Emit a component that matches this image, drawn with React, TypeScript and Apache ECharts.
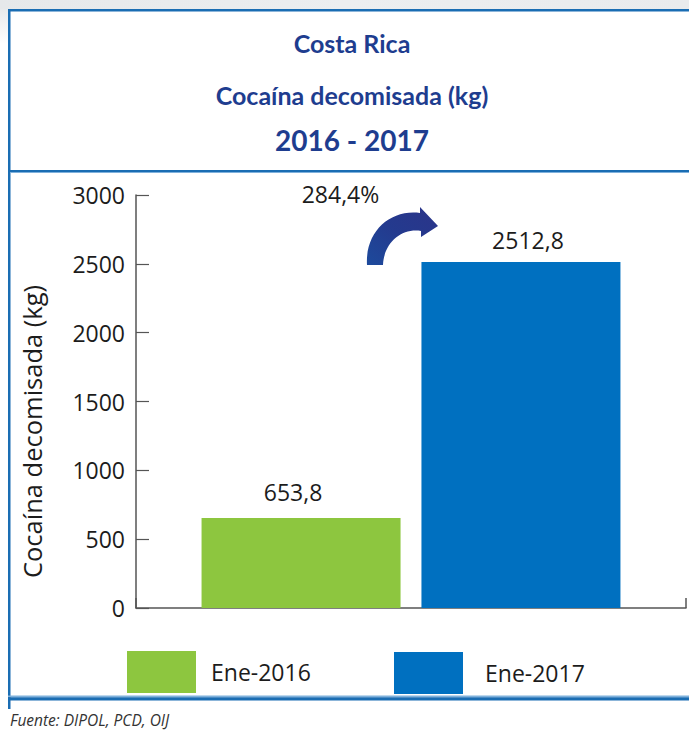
import React, { useEffect, useRef } from "react";
import * as echarts from "echarts";

// ---- data ----
const categories = [""];
const seriesNames = ["Ene-2016", "Ene-2017"];
const values2016 = [653.8];
const values2017 = [2512.8];
const yMin = 0;
const yMax = 3000;
const yInterval = 500;
const titleLines = ["Costa Rica", "Cocaína decomisada (kg)", "2016 - 2017"];
const changeLabel = "284,4%";
const yAxisName = "Cocaína decomisada (kg)";
const sourceNote = "Fuente: DIPOL, PCD, OIJ";

const fmt = (v: number) => v.toFixed(1).replace(".", ",");

const FONT = "'Open Sans', 'Noto Sans', sans-serif";
const TITLE_FONT = "Lato, 'Open Sans', sans-serif";
const TITLE_COLOR = "#1e3d8f";
const TEXT_COLOR = "#1c1c1c";
const AXIS_COLOR = "#555555";
const GREEN = "#8dc63f";
const BLUE = "#0070c0";
const FRAME = "#1a6db3";
const FRAME_LIGHT = "#7fb1dc";

const ARROW_D =
  "M 367 265 C 365 232 390 209 420 213 L 420 207 L 438 226 L 421 237 L 421 231 C 401 228 384 243 383 265 Z";

let registered = false;

export default function App() {
  const ref = useRef<HTMLDivElement>(null);

  useEffect(() => {
    if (!ref.current) return;
    if (!registered) {
      echarts.graphic.registerShape(
        "curvedArrow",
        echarts.graphic.extendPath(ARROW_D, {}) as any
      );
      registered = true;
    }
    const chart = echarts.init(ref.current, null, { renderer: "svg" });

    const option: any = {
      animation: false,
      backgroundColor: "#ffffff",
      title: [
        { top: 30, fontSize: 25 },
        { top: 82, fontSize: 25 },
        { top: 126, fontSize: 28 },
      ].map((t, i) => ({
        text: titleLines[i],
        left: 352,
        top: t.top,
        textAlign: "center",
        padding: 0,
        textStyle: {
          fontFamily: TITLE_FONT,
          fontWeight: "bold",
          fontSize: t.fontSize,
          color: TITLE_COLOR,
        },
      })),
      legend: [
        {
          data: [seriesNames[0]],
          left: 127,
          top: 651,
          padding: 0,
          itemWidth: 69,
          itemHeight: 42,
          icon: "rect",
          selectedMode: false,
          textStyle: {
            fontFamily: FONT,
            fontSize: 23,
            color: TEXT_COLOR,
            padding: [17, 0, 0, 10],
          },
        },
        {
          data: [seriesNames[1]],
          left: 394,
          top: 652,
          padding: 0,
          itemWidth: 69,
          itemHeight: 42,
          icon: "rect",
          selectedMode: false,
          textStyle: {
            fontFamily: FONT,
            fontSize: 23,
            color: TEXT_COLOR,
            padding: [19, 0, 0, 17],
          },
        },
      ],
      grid: { left: 136, right: 3, top: 195, bottom: 126 },
      xAxis: {
        type: "category",
        data: categories,
        axisLine: { show: true, lineStyle: { color: AXIS_COLOR, width: 1.5 } },
        axisTick: { show: true, inside: true, length: 10, lineStyle: { color: AXIS_COLOR, width: 1.5 } },
        axisLabel: { show: false },
        splitLine: { show: false },
      },
      yAxis: {
        type: "value",
        min: yMin,
        max: yMax,
        interval: yInterval,
        name: yAxisName,
        nameLocation: "middle",
        nameGap: 91,
        nameTextStyle: {
          fontFamily: FONT,
          fontSize: 25.5,
          color: TEXT_COLOR,
          padding: [0, 60, 0, 0],
        },
        axisLine: { show: true, lineStyle: { color: AXIS_COLOR, width: 1.5 } },
        axisTick: { show: true, inside: true, length: 13, lineStyle: { color: AXIS_COLOR, width: 1.2 } },
        axisLabel: {
          fontFamily: FONT,
          fontSize: 23,
          color: TEXT_COLOR,
          margin: 11,
          formatter: (v: number) => String(v),
        },
        splitLine: { show: false },
      },
      series: [
        {
          name: seriesNames[0],
          type: "bar",
          barWidth: 199,
          barGap: "10.5%",
          itemStyle: { color: GREEN },
          data: values2016.map((v) => ({
            value: v,
            label: { offset: [-8, 0], distance: 14 },
          })),
          label: {
            show: true,
            position: "top",
            fontFamily: FONT,
            fontSize: 23,
            color: TEXT_COLOR,
            formatter: (p: any) => fmt(p.value),
          },
        },
        {
          name: seriesNames[1],
          type: "bar",
          barWidth: 199,
          itemStyle: { color: BLUE },
          data: values2017.map((v) => ({
            value: v,
            label: { offset: [7, 0], distance: 11 },
          })),
          label: {
            show: true,
            position: "top",
            fontFamily: FONT,
            fontSize: 23,
            color: TEXT_COLOR,
            formatter: (p: any) => fmt(p.value),
          },
        },
      ],
      graphic: [
        {
          type: "rect",
          shape: { x: 0, y: 0, width: 689, height: 9 },
          style: {
            fill: new echarts.graphic.LinearGradient(0, 0, 1, 0, [
              { offset: 0, color: "#e6e8ea" },
              { offset: 0.5, color: "#eceef0" },
              { offset: 1, color: "#e9ebed" },
            ]),
          },
          silent: true,
        },
        {
          type: "rect",
          shape: { x: 0, y: 9, width: 8, height: 35 },
          style: {
            fill: new echarts.graphic.LinearGradient(0, 0, 0, 1, [
              { offset: 0, color: "#e8eaec" },
              { offset: 1, color: "#ffffff" },
            ]),
          },
          silent: true,
        },
        { type: "rect", shape: { x: 8, y: 9, width: 681, height: 2.5 }, style: { fill: FRAME }, silent: true },
        { type: "rect", shape: { x: 8, y: 9, width: 2.5, height: 700 }, style: { fill: FRAME }, silent: true },
        { type: "rect", shape: { x: 8, y: 170, width: 681, height: 2 }, style: { fill: FRAME }, silent: true },
        { type: "rect", shape: { x: 10, y: 172, width: 679, height: 1 }, style: { fill: FRAME_LIGHT }, silent: true },
        { type: "rect", shape: { x: 8, y: 695.5, width: 681, height: 1.8 }, style: { fill: FRAME_LIGHT }, silent: true },
        { type: "rect", shape: { x: 8, y: 697.3, width: 681, height: 3.2 }, style: { fill: FRAME }, silent: true },
        {
          type: "text",
          x: 340.5,
          y: 194,
          style: {
            text: changeLabel,
            fontFamily: FONT,
            fontSize: 23,
            fill: TEXT_COLOR,
            textAlign: "center",
            textVerticalAlign: "middle",
          },
          silent: true,
        },
        {
          type: "curvedArrow",
          x: 0,
          y: 0,
          style: {
            fill: new echarts.graphic.LinearGradient(0, 1, 1, 0, [
              { offset: 0, color: "#1d4a9c" },
              { offset: 0.5, color: "#243a8e" },
              { offset: 1, color: "#2b3489" },
            ]),
          },
          silent: true,
        },
        {
          type: "text",
          x: 10,
          y: 720,
          style: {
            text: sourceNote,
            fontFamily: FONT,
            fontStyle: "italic",
            fontSize: 15.5,
            fill: "#333333",
            textAlign: "left",
            textVerticalAlign: "middle",
          },
          silent: true,
        },
      ],
    };

    chart.setOption(option);
    return () => chart.dispose();
  }, []);

  return (
    <div
      ref={ref}
      style={{ position: "absolute", left: 0, top: 0, width: 689, height: 734 }}
    />
  );
}
